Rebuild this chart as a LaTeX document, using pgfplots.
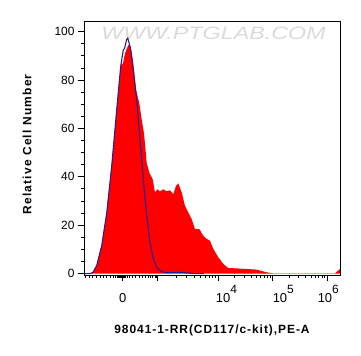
\documentclass[border=0pt]{standalone}
\usepackage{fontspec}
\setmainfont{Liberation Sans}
\usepackage{pgfplots}
\pgfplotsset{compat=1.18}
\definecolor{ctrlblue}{RGB}{40,30,140}
\definecolor{wmgray}{RGB}{218,218,218}
\newcommand{\ex}[1]{10\raisebox{0.62em}{\fontsize{12}{12}\selectfont #1}}
\begin{document}
\begin{tikzpicture}
\useasboundingbox (-84bp,-81bp) rectangle (277bp,275bp);
\begin{axis}[
  scale only axis, width=256bp, height=254bp,
  xmin=0, xmax=256, ymin=-0.6, ymax=104.4,
  axis line style={line width=0.8pt},
  tick align=outside, tick pos=left,
  major tick length=6bp, minor tick length=3bp,
  tick style={black, line width=0.8pt},
  ytick={0,20,40,60,80,100}, minor y tick num=3,
  yticklabel style={font=\fontsize{12}{14}\selectfont},
  /pgf/number format/assume math mode=true,
  xtick={38.5,73.7,134.3,188.7,243.3},
  xticklabels={},
  minor xtick={1,5,8.7,12.7,16,19.3,22.7,26,29.5,31.5,33,34.5,35.5,36.5,37.5,39.5,40.5,41.5,43,45,48.3,51.7,55,58.3,61.7,64.5,66.7,68.7,71,72.5,
    91.9,102.6,110.2,116.1,120.9,124.9,128.4,131.5,
    150.7,160.2,167.0,172.3,176.6,180.3,183.4,186.2,
    205.1,214.7,221.6,226.9,231.2,234.8,238.0,240.8},
  extra x ticks={38.7,142.5,199.3,244.3},
  extra x tick labels={0,\ex{4},\ex{5},\ex{6}},
  extra x tick style={major tick length=0pt},
  xticklabel style={font=\fontsize{13}{14}\selectfont, anchor=base, yshift=-27bp},
  xlabel={\addfontfeatures{LetterSpace=8}98041-1-RR(CD117/c-kit),PE-A},
  ylabel={\addfontfeatures{LetterSpace=10}Relative Cell Number},
  xlabel style={font=\fontsize{12}{14}\selectfont\bfseries, at={(axis description cs:0.5,-0.2165)}, anchor=center},
  ylabel style={font=\fontsize{12}{14}\selectfont\bfseries, at={(axis description cs:-0.2227,0.514)}, anchor=center, rotate=0},
  clip=true,
]
\node[text=wmgray, font=\fontsize{18}{18}\selectfont\itshape, xscale=1.3] at (axis cs:129.5,99.3) {WWW.PTGLAB.COM};
\addplot[fill=red, draw=none] coordinates {
(0,0) (6,0) (9,0.5) (12.7,3.3) (17.7,11.5) (22.7,25) (27.7,44.4) (32.7,67.8) (36.7,85.6) (37.7,87) (38.7,86.3)
(41,91) (44.3,94.5) (46.7,93.8) (49.3,87) (52,76) (55.3,70.5) (57.7,63.6) (60,58) (62.7,45.8)
(65.3,41.7) (68.7,39) (71,33.5) (73.3,34.8) (76,34) (79.3,34.8) (82.7,34) (86,34.4) (89.3,32.8)
(92,36.2) (94.3,37.3) (97.7,33.5) (101,28) (104.3,25.2) (107.7,22.5) (111,18.4) (115.3,18.4)
(119.3,15.6) (122.7,14.3) (126,13.6) (129.3,10.2) (134.3,6.7) (139.3,4) (144.3,2.2) (149.3,2.2)
(162.7,1.9) (172.7,1.6) (182.7,0.5) (189.3,0.1) (251,0.1) (253,0.8) (256,1.9) (256,0)
} \closedcycle;
\addplot[ctrlblue, line width=1.1pt] coordinates {
(0,0) (6,0) (9,0.5) (12.7,3.3) (17.7,11.5) (22.7,25) (27.7,44.4) (32.7,67.8) (36.7,85.6)
(39.3,92.5) (40.5,93) (42.7,96.8) (43.7,97.3) (44.7,96) (46.7,92.5) (49.3,84.2) (52.7,71.9)
(56,55.4) (59.3,39) (62.7,23.9) (66,12.9) (69.3,6) (72.7,2.6) (77.7,0.8) (82.7,0.3) (92.7,0.5)
(102.7,0.3) (109.3,0) (120,0)
};
\end{axis}
\end{tikzpicture}
\end{document}
